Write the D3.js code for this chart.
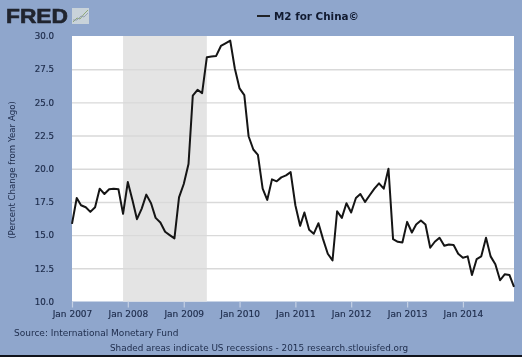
<!DOCTYPE html>
<html>
<head>
<meta charset="utf-8">
<title>M2 for China</title>
<script src="https://cdn.jsdelivr.net/npm/d3@7"></script>
<style>
  html, body { margin: 0; padding: 0; background: #8fa6cc; overflow: hidden; }
  svg { display: block; filter: blur(0.45px); font-family: "DejaVu Sans", sans-serif; }
</style>
</head>
<body>
<svg id="chart"></svg>
<script>
(() => {

  const startMonth = '2007-01';
  const m2Values = [
    15.85, 17.8, 17.25, 17.1, 16.75, 17.1, 18.5, 18.1, 18.45, 18.5, 18.45, 16.6,
    19.0, 17.6, 16.2, 17.0, 18.05, 17.4, 16.3, 15.95, 15.25, 15.0, 14.75, 17.85,
    18.85, 20.35, 25.5, 25.95, 25.7, 28.4, 28.45, 28.5, 29.25, 29.45, 29.65, 27.55,
    26.05, 25.55, 22.45, 21.45, 21.05, 18.5, 17.65, 19.2, 19.05, 19.35, 19.5, 19.75,
    17.25, 15.7, 16.7, 15.4, 15.1, 15.9, 14.7, 13.6, 13.1, 16.8, 16.3, 17.4,
    16.7, 17.8, 18.1, 17.5, 18.0, 18.5, 18.9, 18.5, 20.0, 14.7, 14.5, 14.45,
    16.0, 15.2, 15.8, 16.1, 15.8, 14.05, 14.5, 14.8, 14.2, 14.3, 14.25, 13.6,
    13.3, 13.4, 12.0, 13.2, 13.4, 14.8, 13.4, 12.8, 11.6, 12.05, 12.0, 11.1
  ];
  const recession = ['2007-12', '2009-06'];
  const yTicks = [10, 12.5, 15, 17.5, 20, 22.5, 25, 27.5, 30];
  const xTickYears = [2007, 2008, 2009, 2010, 2011, 2012, 2013, 2014];

  const titleText = 'M2 for China©';
  const yLabel = '(Percent Change from Year Ago)';
  const sourceText = 'Source: International Monetary Fund';
  const noteText = 'Shaded areas indicate US recessions - 2015 research.stlouisfed.org';

  const width = 522;
  const height = 357;
  const plot = { left: 72, right: 514, top: 36, bottom: 301.5 };
  const inkColor = '#1d2b4a';

  const parseMonth = d3.timeParse('%Y-%m');
  const dates = d3.timeMonth.range(parseMonth(startMonth), d3.timeMonth.offset(parseMonth(startMonth), m2Values.length));
  const dataset = dates.map((date, i) => ({ date, value: m2Values[i] }));

  const x = d3.scaleTime()
    .domain(d3.extent(dates))
    .range([plot.left, plot.right]);
  const y = d3.scaleLinear()
    .domain([10, 30])
    .range([plot.bottom, plot.top]);

  const svg = d3.select('#chart')
    .attr('width', width)
    .attr('height', height);

  svg.append('rect')
    .attr('width', width)
    .attr('height', height)
    .attr('fill', '#8fa6cc');

  // dark edge along the bottom of the screenshot
  svg.append('rect')
    .attr('y', height - 2)
    .attr('width', width)
    .attr('height', 2)
    .attr('fill', '#10131c');

  svg.append('rect')
    .attr('x', plot.left)
    .attr('y', plot.top)
    .attr('width', plot.right - plot.left)
    .attr('height', plot.bottom - plot.top)
    .attr('fill', '#fff');

  svg.append('rect')
    .attr('x', x(parseMonth(recession[0])))
    .attr('y', plot.top)
    .attr('width', x(parseMonth(recession[1])) - x(parseMonth(recession[0])))
    .attr('height', plot.bottom - plot.top)
    .attr('fill', '#e4e4e4');

  // y axis, ticks double as gridlines
  const yAxis = svg.append('g')
    .attr('transform', `translate(${plot.left},0)`)
    .call(d3.axisLeft(y)
      .tickValues(yTicks)
      .tickFormat(d3.format('.1f'))
      .tickSize(-(plot.right - plot.left))
      .tickPadding(18));
  yAxis.select('.domain').remove();
  yAxis.selectAll('.tick line')
    .attr('stroke', '#d9d9d9')
    .attr('stroke-width', 1.4)
    .filter((d) => d === 10 || d === 30)
    .remove();
  yAxis.selectAll('.tick text')
    .attr('fill', inkColor)
    .attr('font-size', 8.7)
    .attr('stroke', inkColor)
    .attr('stroke-width', 0.2)
    .attr('font-family', '"DejaVu Sans", sans-serif');

  const xAxis = svg.append('g')
    .attr('transform', `translate(0,${plot.bottom})`)
    .call(d3.axisBottom(x)
      .tickValues(xTickYears.map((year) => new Date(year, 0, 1)))
      .tickFormat(d3.timeFormat('%b %Y'))
      .tickSize(6)
      .tickPadding(3));
  xAxis.select('.domain').remove();
  xAxis.selectAll('.tick line')
    .attr('stroke', '#c4d0e4')
    .attr('stroke-width', 1.2);
  xAxis.selectAll('.tick text')
    .attr('fill', inkColor)
    .attr('font-size', 9)
    .attr('stroke', inkColor)
    .attr('stroke-width', 0.15)
    .attr('font-family', '"DejaVu Sans", sans-serif');

  const line = d3.line()
    .x((d) => x(d.date))
    .y((d) => y(d.value));

  svg.append('path')
    .datum(dataset)
    .attr('d', line)
    .attr('fill', 'none')
    .attr('stroke', '#151515')
    .attr('stroke-width', 2)
    .attr('stroke-linejoin', 'round');

  // legend title
  svg.append('line')
    .attr('x1', 257)
    .attr('x2', 270)
    .attr('y1', 16)
    .attr('y2', 16)
    .attr('stroke', '#151515')
    .attr('stroke-width', 1.8);
  svg.append('text')
    .attr('x', 274)
    .attr('y', 19.5)
    .attr('font-size', 10.4)
    .attr('font-weight', 'bold')
    .attr('fill', '#111a30')
    .text(titleText);

  svg.append('text')
    .attr('transform', `translate(15,170) rotate(-90)`)
    .attr('text-anchor', 'middle')
    .attr('font-size', 8.6)
    .attr('fill', inkColor)
    .text(yLabel);

  svg.append('text')
    .attr('x', 14)
    .attr('y', 336)
    .attr('font-size', 9)
    .attr('fill', inkColor)
    .text(sourceText);

  svg.append('text')
    .attr('x', 110)
    .attr('y', 351)
    .attr('font-size', 8.85)
    .attr('fill', inkColor)
    .text(noteText);

  // FRED logo
  svg.append('text')
    .attr('x', 6)
    .attr('y', 23)
    .attr('font-family', '"Liberation Sans", sans-serif')
    .attr('font-size', 20)
    .attr('font-weight', 'bold')
    .attr('textLength', 62)
    .attr('lengthAdjust', 'spacingAndGlyphs')
    .attr('stroke', '#20242e')
    .attr('stroke-width', 0.6)
    .attr('fill', '#20242e')
    .text('FRED');
  const logo = svg.append('g').attr('transform', 'translate(72,8)');
  logo.append('rect')
    .attr('width', 17)
    .attr('height', 16)
    .attr('fill', '#c9d3da');
  logo.append('path')
    .attr('d', 'M1,14L5,10L8,11L12,6L16,2')
    .attr('fill', 'none')
    .attr('stroke', '#8fa878')
    .attr('stroke-width', 1);
  logo.append('path')
    .attr('d', 'M1,12L5,12L9,8L12,9L16,5')
    .attr('fill', 'none')
    .attr('stroke', '#8b97ab')
    .attr('stroke-width', 0.8);

})();
</script>
</body>
</html>
